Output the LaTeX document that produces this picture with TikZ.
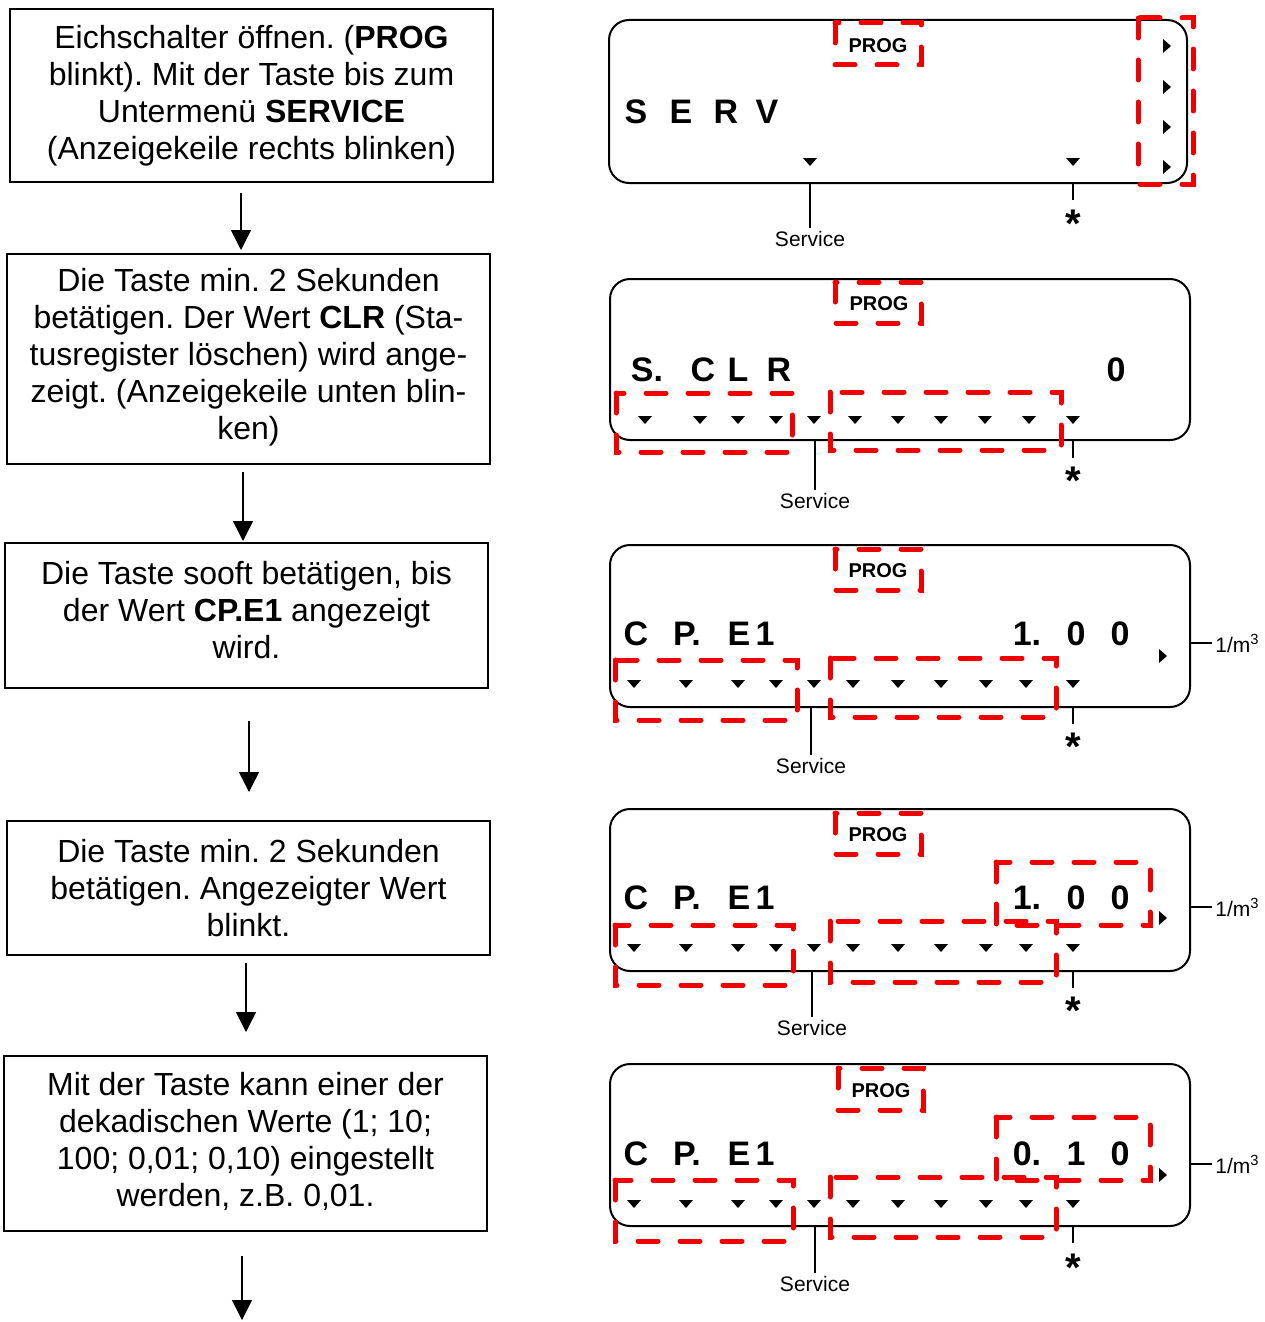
\documentclass[tikz,border=0pt]{standalone}
\usepackage{fontspec}
\setmainfont{Liberation Sans}
\frenchspacing
\usetikzlibrary{arrows.meta,fit}
\definecolor{mark}{RGB}{240,0,0}
\newcommand\keildown[2]{\fill (#1-7,#2-4) -- (#1+7,#2-4) -- (#1,#2+4) -- cycle;}
\newcommand\keilright[2]{\fill (#1-4,#2-7) -- (#1-4,#2+7) -- (#1+4,#2) -- cycle;}
\tikzset{
 stepbox/.style={draw, line width=1pt, inner sep=0pt},
 steptext/.style={align=center, font=\fontsize{16}{18.5}\selectfont, inner sep=0pt},
 lcdbox/.style={draw, line width=1pt, rounded corners=10pt, inner sep=0pt},
 lcdch/.style={font=\fontsize{17}{17}\selectfont\bfseries, inner sep=0pt},
 proglbl/.style={font=\fontsize{10}{10}\selectfont\bfseries, inner sep=0pt},
 smalllbl/.style={font=\fontsize{10.5}{10.5}\selectfont, inner sep=1.5pt},
 starlbl/.style={font=\fontsize{20}{20}\selectfont\bfseries, inner sep=0pt, anchor=base},
 flowarrow/.style={line width=0.75pt, -{Triangle[width=10pt,length=10pt]}},
 leader/.style={line width=0.75pt},
 blink/.style={draw=mark, line width=2.5pt, line cap=round, dash pattern=on 10pt off 11pt},
}
\begin{document}
\begin{tikzpicture}[x=0.5pt,y=-0.5pt]
\useasboundingbox (0,0) rectangle (1264,1322);
% ---------------- left column ----------------
\node[stepbox, fit={(10,9) (493,182)}] (b1) {};
\node[steptext] (t1) at (b1.center) {Eichschalter öffnen. (\textbf{PROG}\\blinkt). Mit der Taste bis zum\\Untermenü \textbf{SERVICE}\\(Anzeigekeile rechts blinken)};
\node[stepbox, fit={(7,254) (490,464)}] (b2) {};
\node[steptext] (t2) at ([yshift=1pt]b2.center) {Die Taste min. 2 Sekunden\\betätigen. Der Wert \textbf{CLR} (Sta-\\tusregister löschen) wird ange-\\zeigt. (Anzeigekeile unten blin-\\ken)};
\node[stepbox, fit={(5,543) (488,688)}] (b3) {};
\node[steptext] (t3) at ([yshift=2.5pt]b3.center) {Die Taste sooft betätigen, bis\\der Wert \textbf{CP.E1} angezeigt\\wird.};
\node[stepbox, fit={(7,821) (490,955)}] (b4) {};
\node[steptext] (t4) at (b4.center) {Die Taste min. 2 Sekunden\\betätigen. Angezeigter Wert\\blinkt.};
\node[stepbox, fit={(4,1056) (487,1231)}] (b5) {};
\node[steptext] (t5) at ([yshift=1pt]b5.center) {Mit der Taste kann einer der\\dekadischen Werte (1; 10;\\100; 0,01; 0,10) eingestellt\\werden, z.B. 0,01.};
\coordinate (a1) at (241,0);
\coordinate (a2) at (243,0);
\coordinate (a3) at (249,0);
\coordinate (a4) at (246,0);
\coordinate (a5) at (242,1320);
\draw[flowarrow, shorten <=5pt, shorten >=1.5pt] (b1.south -| a1) -- (b2.north -| a1);
\draw[flowarrow, shorten <=3.5pt, shorten >=0.5pt] (b2.south -| a2) -- (b3.north -| a2);
\draw[flowarrow, shorten <=16pt, shorten >=14pt] (b3.south -| a3) -- (b4.north -| a3);
\draw[flowarrow, shorten <=3.5pt, shorten >=11.5pt] (b4.south -| a4) -- (b5.north -| a4);
\draw[flowarrow, shorten <=12pt] (b5.south -| a5) -- (a5);
% ---------------- display 1 ----------------
\node[lcdbox, fit={(609,20) (1187,183)}] (d1) {};
\node[proglbl] (d1p) at (878,46) {PROG};
\foreach \ch/\x [count=\i] in {S/636,E/681,R/726,V/767} \node[lcdch] (d1c\i) at (\x,112) {\ch};
\keildown{810}{162} \keildown{1073}{162}
\foreach \y in {46,87,127,167} {\keilright{1167}{\y}}
\draw[blink] (835,23) rectangle (921,65);
\draw[blink] (1138,18) rectangle (1193,184);
\node[smalllbl] (s1) at (810,239) {Service};
\draw[leader] (d1.south -| s1) -- (s1.north);
\coordinate (k1) at (1073,200);
\draw[leader] (d1.south -| k1) -- (k1);
\node[starlbl] (st1) at (1073,237) {*};
% ---------------- display 2 ----------------
\node[lcdbox, fit={(610,279) (1190,440)}] (d2) {};
\node[proglbl] (d2p) at (879,304) {PROG};
\foreach \ch/\x [count=\i] in {S./647,C/703,L/738,R/779,0/1116} \node[lcdch] (d2c\i) at (\x,370) {\ch};
\foreach \x in {645,700,738,776,814,855,898,941,985,1029,1073} {\keildown{\x}{420}}
\draw[blink] (835,282) rectangle (921,323);
\draw[blink] (616,393) rectangle (792,452);
\draw[blink] (830,392) rectangle (1061,450);
\node[smalllbl] (s2) at (815,501) {Service};
\draw[leader] (d2.south -| s2) -- (s2.north);
\coordinate (k2) at (1073,458);
\draw[leader] (d2.south -| k2) -- (k2);
\node[starlbl] (st2) at (1073,494) {*};
% ---------------- display 3 ----------------
\node[lcdbox, fit={(610,545) (1190,707)}] (d3) {};
\node[proglbl] (d3p) at (878,571) {PROG};
\foreach \ch/\x [count=\i] in {C/636,P./687,E/739,1/765,1./1027,0/1076,0/1120} \node[lcdch] (d3c\i) at (\x,634) {\ch};
\foreach \x in {634,686,738,776,814,853,898,941,986,1026,1073} {\keildown{\x}{684}}
\keilright{1163}{656}
\draw[blink] (835,549) rectangle (921,590);
\draw[blink] (615,660) rectangle (797,720);
\draw[blink] (830,658) rectangle (1056,717);
\node[smalllbl, anchor=west] (u3) at (1212,643) {1/m\textsuperscript{3}};
\draw[leader] (d3.east |- u3.west) -- (u3.west);
\node[smalllbl] (s3) at (811,766) {Service};
\draw[leader] (d3.south -| s3) -- (s3.north);
\coordinate (k3) at (1073,724);
\draw[leader] (d3.south -| k3) -- (k3);
\node[starlbl] (st3) at (1073,760) {*};
% ---------------- display 4 ----------------
\node[lcdbox, fit={(610,809) (1190,971)}] (d4) {};
\node[proglbl] (d4p) at (878,835) {PROG};
\foreach \ch/\x [count=\i] in {C/636,P./687,E/739,1/765,1./1027,0/1076,0/1120} \node[lcdch] (d4c\i) at (\x,898) {\ch};
\foreach \x in {634,686,738,776,814,853,898,941,986,1026,1073} {\keildown{\x}{948}}
\keilright{1163}{918}
\draw[blink] (835,813) rectangle (921,854);
\draw[blink] (615,925) rectangle (793,985);
\draw[blink] (830,921) rectangle (1056,982);
\draw[blink] (996,862) rectangle (1150,925);
\node[smalllbl, anchor=west] (u4) at (1212,907) {1/m\textsuperscript{3}};
\draw[leader] (d4.east |- u4.west) -- (u4.west);
\node[smalllbl] (s4) at (812,1028) {Service};
\draw[leader] (d4.south -| s4) -- (s4.north);
\coordinate (k4) at (1073,988);
\draw[leader] (d4.south -| k4) -- (k4);
\node[starlbl] (st4) at (1073,1024) {*};
% ---------------- display 5 ----------------
\node[lcdbox, fit={(610,1064) (1190,1226)}] (d5) {};
\node[proglbl] (d5p) at (881,1091) {PROG};
\foreach \ch/\x [count=\i] in {C/636,P./687,E/739,1/765,0./1027,1/1076,0/1120} \node[lcdch] (d5c\i) at (\x,1154) {\ch};
\foreach \x in {634,686,738,776,814,853,898,941,986,1026,1073} {\keildown{\x}{1204}}
\keilright{1163}{1175}
\draw[blink] (838,1068) rectangle (923,1110);
\draw[blink] (615,1180) rectangle (793,1241);
\draw[blink] (830,1177) rectangle (1056,1237);
\draw[blink] (996,1117) rectangle (1150,1180);
\node[smalllbl, anchor=west] (u5) at (1212,1164) {1/m\textsuperscript{3}};
\draw[leader] (d5.east |- u5.west) -- (u5.west);
\node[smalllbl] (s5) at (815,1284) {Service};
\draw[leader] (d5.south -| s5) -- (s5.north);
\coordinate (k5) at (1073,1243);
\draw[leader] (d5.south -| k5) -- (k5);
\node[starlbl] (st5) at (1073,1281) {*};
\end{tikzpicture}
\end{document}
